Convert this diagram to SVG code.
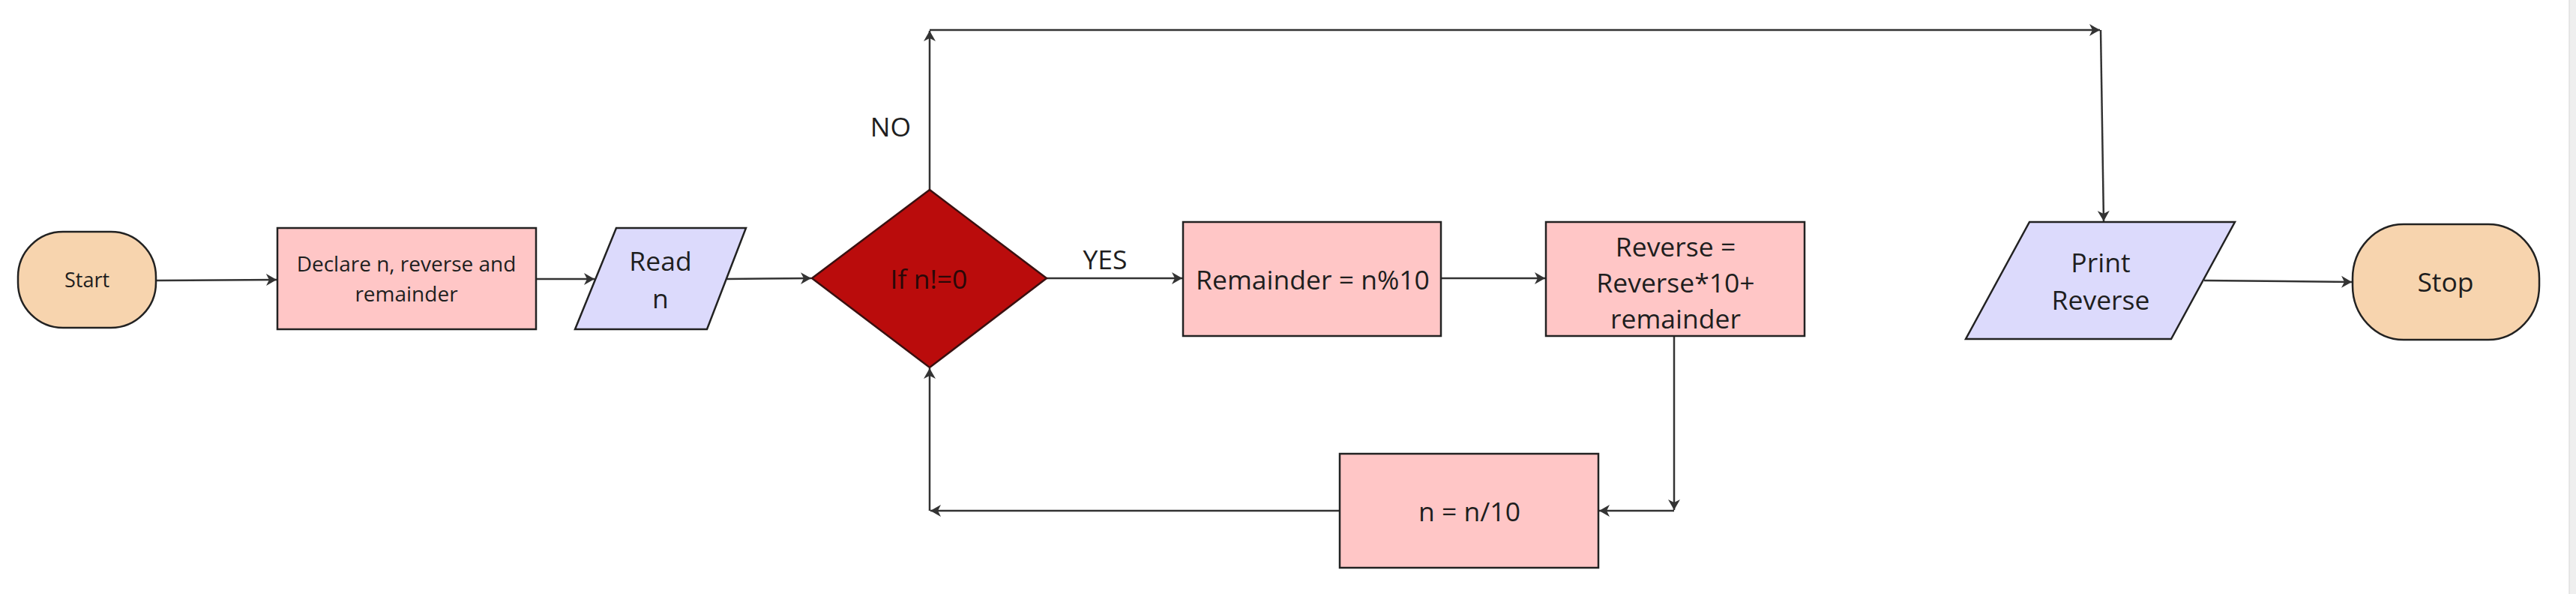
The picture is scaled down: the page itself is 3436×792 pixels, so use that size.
<svg xmlns="http://www.w3.org/2000/svg" width="3436" height="792" viewBox="0 0 3436 792">
<style>
.t{font-family:"Open Sans","Noto Sans","Liberation Sans",sans-serif;fill:#1e1e1e;text-anchor:middle}
.big{font-size:35.5px}
.term{fill:#F7D4AE;stroke:#222;stroke-width:2.5}
.proc{fill:#FFC6C6;stroke:#222;stroke-width:2.5}
.io{fill:#DCDAFC;stroke:#222;stroke-width:2.5}
.dec{fill:#BA0C0C;stroke:#3a1010;stroke-width:2.5}
.c{fill:none;stroke:#333;stroke-width:2.5;marker-end:url(#ah)}
</style>
<defs>
<marker id="ah" markerUnits="userSpaceOnUse" markerWidth="16" markerHeight="18" refX="14" refY="8" orient="auto" viewBox="0 0 16 16">
<path d="M0,0 L14,8 L0,16 L4,8 z" fill="#333"/>
</marker>
</defs>
<rect x="0" y="0" width="3436" height="792" fill="#ffffff"/>
<rect x="3427" y="0" width="9" height="792" fill="#efefef"/>
<line x1="3427" y1="0" x2="3427" y2="792" stroke="#e0e0e0" stroke-width="1.5"/>

<g id="connectors">
<path class="c" d="M208,374 L369,373"/>
<path class="c" d="M715,372 L793,372"/>
<path class="c" d="M968,372 L1082,371"/>
<path class="c" d="M1396,371 L1577,371"/>
<path class="c" d="M1922,371 L2061,371"/>
<path class="c" d="M2233,448 L2233,680"/>
<path class="c" d="M2233,681 L2133,681"/>
<path class="c" d="M1787,681 L1241,681"/>
<path class="c" d="M1240,681 L1240,491"/>
<path class="c" d="M1240,253 L1240,41"/>
<path class="c" d="M1240,40 L2801,40"/>
<path class="c" d="M2802,40 L2806,295"/>
<path class="c" d="M2940,374 L3137,376"/>
</g>

<g id="start">
<rect class="term" x="24" y="309" width="184" height="128" rx="60" ry="60"/>
<text class="t" x="116" y="383" font-size="27">Start</text>
</g>

<g id="declare">
<rect class="proc" x="370" y="304" width="345" height="135"/>
<text class="t" x="542" y="362" font-size="28">Declare n, reverse and</text>
<text class="t" x="542" y="402" font-size="28">remainder</text>
</g>

<g id="read">
<polygon class="io" points="822,304 995,304 943,439 767,439"/>
<text class="t big" x="881" y="361">Read</text>
<text class="t big" x="881" y="411">n</text>
</g>

<g id="decision">
<polygon class="dec" points="1240,253 1396,371 1240,490 1083,371"/>
<text class="t big" x="1239" y="385" style="fill:#2a0808">If n!=0</text>
</g>

<g id="labels">
<text class="t big" x="1474" y="359">YES</text>
<text class="t big" x="1188" y="182">NO</text>
</g>

<g id="remainder">
<rect class="proc" x="1578" y="296" width="344" height="152"/>
<text class="t big" x="1751" y="386">Remainder = n%10</text>
</g>

<g id="reverse">
<rect class="proc" x="2062" y="296" width="345" height="152"/>
<text class="t big" x="2235" y="342">Reverse =</text>
<text class="t big" x="2235" y="390">Reverse*10+</text>
<text class="t big" x="2235" y="438">remainder</text>
</g>

<g id="divide">
<rect class="proc" x="1787" y="605" width="345" height="152"/>
<text class="t big" x="1960" y="695">n = n/10</text>
</g>

<g id="print">
<polygon class="io" points="2707,296 2981,296 2896,452 2622,452"/>
<text class="t big" x="2802" y="363">Print</text>
<text class="t big" x="2802" y="413">Reverse</text>
</g>

<g id="stop">
<rect class="term" x="3138" y="299" width="249" height="154" rx="68" ry="72"/>
<text class="t big" x="3262" y="389">Stop</text>
</g>
</svg>
